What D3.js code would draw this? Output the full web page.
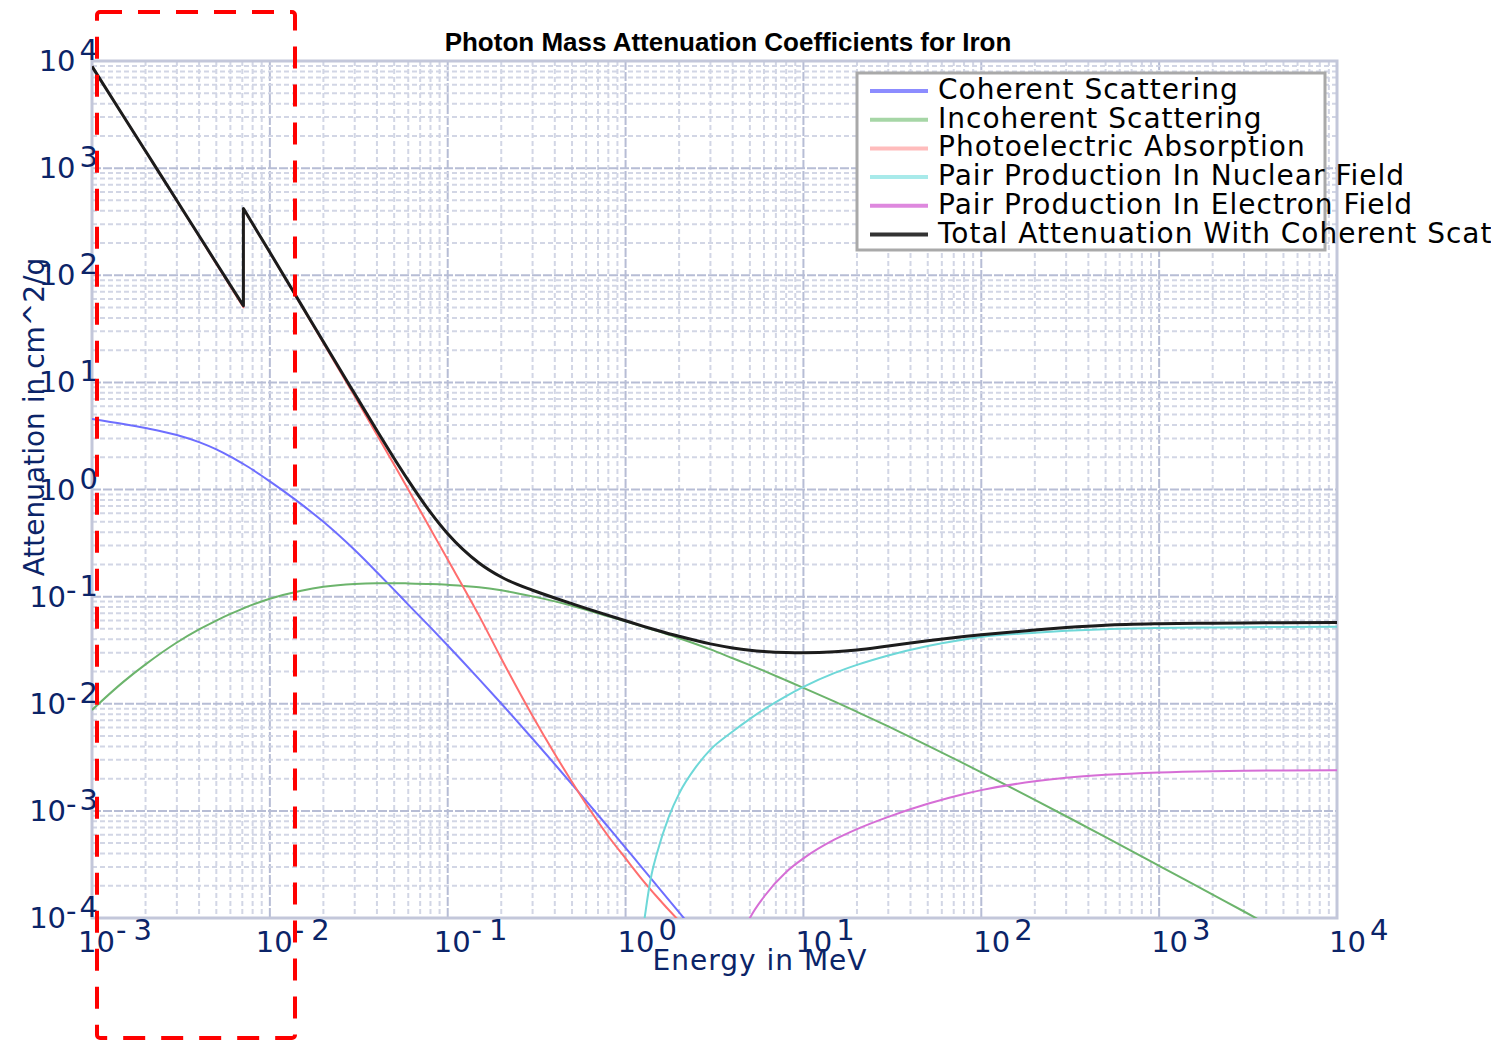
<!DOCTYPE html>
<html>
<head>
<meta charset="utf-8">
<script src="https://cdn.jsdelivr.net/npm/d3@7"></script>
<style>
  html, body { margin: 0; padding: 0; background: #fff; }
  svg { display: block; }
</style>
</head>
<body>
<svg id="chart" width="1509" height="1042"></svg>
<script>
// Photon energies in MeV (the iron K edge appears twice: just below / just above)
const energyMeV = [0.001, 0.0015, 0.002, 0.003, 0.004, 0.005, 0.006, 0.0071, 0.0071, 0.008,
  0.01, 0.015, 0.02, 0.03, 0.04, 0.05, 0.06, 0.08, 0.1, 0.15,
  0.2, 0.3, 0.4, 0.5, 0.6, 0.8, 1, 1.25, 1.5, 2,
  3, 4, 5, 6, 8, 10, 15, 20, 30, 50,
  80, 100, 200, 300, 500, 1000, 2000, 3000, 5000, 10000];

// Energies used for the two pair-production channels (above threshold)
const pairEnergyMeV = [1.1, 1.2, 1.3, 1.4, 1.5, 1.75, 2, 2.5, 3, 4,
  5, 6, 8, 10, 15, 20, 30, 50, 80, 100,
  200, 300, 500, 1000, 2000, 3000, 5000, 10000];

// Mass attenuation coefficients, cm^2/g (null = not plotted)
const coherent = [4.56, 4.09, 3.75, 3.23, 2.77, 2.37, 2.03, 1.73, 1.73, 1.53,
  1.19, 0.730, 0.499, 0.272, 0.169, 0.1155, 0.0842, 0.0516, 0.0350, 0.0170,
  0.01005, 0.00471, 0.002726, 0.001771, 0.001242, 0.000704, 0.000452, 0.000289, 0.000201, 0.000113,
  0.00005, null, null, null, null, null, null, null, null, null,
  null, null, null, null, null, null, null, null, null, null];

const incoherent = [0.00875, 0.0160, 0.0233, 0.0373, 0.0494, 0.0598, 0.0690, 0.0778, 0.0778, 0.0841,
  0.0955, 0.1135, 0.1236, 0.1315, 0.1333, 0.1334, 0.1328, 0.1312, 0.1289, 0.1225,
  0.1145, 0.1005, 0.0903, 0.0822, 0.0755, 0.0655, 0.0587, 0.0525, 0.0479, 0.0409,
  0.0322, 0.0266, 0.02293, 0.02025, 0.01652, 0.01409, 0.01047, 0.00841, 0.00614, 0.00407,
  0.002767, 0.002293, 0.001267, 0.000891, 0.000569, 0.000307, 0.000165, 0.000115, 0.000072, 0.0000385];

const photoelectric = [8895, 3066, 1439, 494.7, 231.2, 127.6, 78.6, 50.2, 418.2, 301.0,
  162.5, 52.4, 23.3, 7.42, 3.25, 1.70, 1.00, 0.428, 0.222, 0.0665,
  0.0265, 0.0077, 0.0034, 0.00186, 0.00116, 0.00058, 0.00036, 0.000225, 0.000158, 0.000094,
  0.00005, null, null, null, null, null, null, null, null, null,
  null, null, null, null, null, null, null, null, null, null];

const total = [8900, 3070, 1443, 498, 234, 130, 80.7, 52, 420, 302.6,
  163.8, 53.2, 23.9, 7.82, 3.55, 1.95, 1.218, 0.611, 0.386, 0.206,
  0.1523, 0.1147, 0.0971, 0.0859, 0.0778, 0.0668, 0.0595, 0.0531, 0.0486, 0.0426,
  0.0362, 0.0332, 0.0316, 0.03075, 0.03005, 0.02992, 0.03053, 0.03178, 0.03461, 0.03872,
  0.04234, 0.04398, 0.0488, 0.05144, 0.05414, 0.05585, 0.05655, 0.05678, 0.0570, 0.0572];

const pairNuclear = [0.000005, 0.00004, 0.00012, 0.000255, 0.0004, 0.00088, 0.00145, 0.0026, 0.00373, 0.0055,
  0.00722, 0.00886, 0.0118, 0.01437, 0.0194, 0.02305, 0.02823, 0.03462, 0.03987, 0.04207,
  0.04603, 0.04793, 0.04967, 0.05089, 0.05152, 0.05177, 0.05203, 0.05229];

const pairElectron = [null, null, null, null, null, null, null, null, null, 0.00004,
  0.0001, 0.000158, 0.000269, 0.00036, 0.000541, 0.000676, 0.00088, 0.001165, 0.001439, 0.001562,
  0.00189, 0.002037, 0.002171, 0.002287, 0.002348, 0.002367, 0.002382, 0.002395];

const seriesNames = ["Coherent Scattering", "Incoherent Scattering", "Photoelectric Absorption",
  "Pair Production In Nuclear Field", "Pair Production In Electron Field",
  "Total Attenuation With Coherent Scattering"];
const seriesEnergies = [energyMeV, energyMeV, energyMeV, pairEnergyMeV, pairEnergyMeV, energyMeV];
const seriesValues = [coherent, incoherent, photoelectric, pairNuclear, pairElectron, total];
const seriesColors = ["#6e6eff", "#6cb46c", "#ff6e6e", "#6ed8d8", "#d66ed6", "#1c1c1c"];
const legendColors = ["#8c8cff", "#a6d6a6", "#ffbcbc", "#a8eaea", "#de88de", "#333333"];

const titleText = "Photon Mass Attenuation Coefficients for Iron";
const xLabelText = "Energy in MeV";
const yLabelText = "Attenuation in cm^2/g";
const xTickExponents = [-3, -2, -1, 0, 1, 2, 3, 4];
const yTickExponents = [-4, -3, -2, -1, 0, 1, 2, 3, 4];

const svg = d3.select("#chart");
const plot = { left: 92, right: 1337, top: 61, bottom: 918 };
const navy = "#0b2468";

const x = d3.scaleLog().domain([1e-3, 1e4]).range([plot.left, plot.right]);
const y = d3.scaleLog().domain([1e-4, 1e4]).range([plot.bottom, plot.top]);

const defs = svg.append("defs");
defs.append("clipPath").attr("id", "plotClip").append("rect")
  .attr("x", plot.left).attr("y", plot.top)
  .attr("width", plot.right - plot.left).attr("height", plot.bottom - plot.top);
defs.append("clipPath").attr("id", "pageClip").append("rect")
  .attr("x", 0).attr("y", 0).attr("width", 1491).attr("height", 1042);

// log grid, decades slightly darker
const isDecade = v => Math.abs(Math.log10(v) - Math.round(Math.log10(v))) < 1e-9;
const grid = svg.append("g");
grid.selectAll("line.gx").data(x.ticks()).join("line")
  .attr("x1", d => x(d)).attr("x2", d => x(d))
  .attr("y1", plot.top).attr("y2", plot.bottom)
  .attr("stroke", d => isDecade(d) ? "#b7bdd5" : "#d2d6e5")
  .attr("stroke-width", 2)
  .attr("stroke-dasharray", d => isDecade(d) ? "9,2" : "5,3");
grid.selectAll("line.gy").data(y.ticks()).join("line")
  .attr("y1", d => y(d)).attr("y2", d => y(d))
  .attr("x1", plot.left).attr("x2", plot.right)
  .attr("stroke", d => isDecade(d) ? "#b7bdd5" : "#d2d6e5")
  .attr("stroke-width", 2)
  .attr("stroke-dasharray", d => isDecade(d) ? "9,2" : "5,3");

// axes box
svg.append("rect")
  .attr("x", plot.left).attr("y", plot.top)
  .attr("width", plot.right - plot.left).attr("height", plot.bottom - plot.top)
  .attr("fill", "none").attr("stroke", "#c3c7da").attr("stroke-width", 3);

// curves: split at repeated energies so the absorption edge is a sharp step
const lineGen = d3.line().x(p => x(p.e)).y(p => y(p.v)).curve(d3.curveMonotoneX);
function pathFor(energies, values) {
  const pts = energies.map((e, i) => ({ e, v: values[i] })).filter(p => p.v != null);
  const runs = [[]];
  pts.forEach((p, i) => {
    if (i > 0 && p.e === pts[i - 1].e) runs.push([]);
    runs[runs.length - 1].push(p);
  });
  return runs.map((r, i) => { const s = lineGen(r); return i ? s.replace(/^M/, "L") : s; }).join("");
}
const curves = svg.append("g").attr("clip-path", "url(#plotClip)");
seriesValues.forEach((vals, i) => {
  curves.append("path")
    .attr("d", pathFor(seriesEnergies[i], vals))
    .attr("fill", "none")
    .attr("stroke", seriesColors[i])
    .attr("stroke-width", i === 5 ? 3 : 2)
    .attr("stroke-linejoin", "round");
});

// tick labels
const tickFont = "'DejaVu Sans', 'Liberation Sans', sans-serif";
xTickExponents.forEach(k => {
  const t = svg.append("text")
    .attr("x", x(Math.pow(10, k)) + (k < 0 ? -14 : -8)).attr("y", 952)
    .attr("font-family", tickFont).attr("font-size", 29).attr("fill", navy);
  t.append("tspan").text("10");
  if (k < 0) {
    t.append("tspan").attr("dx", 1).attr("dy", -12).text("-");
    t.append("tspan").attr("dx", 7).text(String(-k));
  } else {
    t.append("tspan").attr("dx", 4).attr("dy", -12).text(String(k));
  }
});
yTickExponents.forEach(k => {
  const ty = y(Math.pow(10, k));
  const t = svg.append("text")
    .attr("x", 98).attr("y", ty + 10).attr("text-anchor", "end")
    .attr("font-family", tickFont).attr("font-size", 29).attr("fill", navy);
  t.append("tspan").text("10");
  if (k < 0) {
    t.append("tspan").attr("dy", -7).text("-");
    t.append("tspan").attr("dx", 3).attr("dy", -4).text(String(-k));
  } else {
    t.append("tspan").attr("dx", 4).attr("dy", -11).text(String(k));
  }
});

// title and axis labels
svg.append("text")
  .attr("x", 728).attr("y", 51).attr("text-anchor", "middle")
  .attr("font-family", "'Liberation Sans', Arial, sans-serif").attr("font-weight", "bold")
  .attr("font-size", 26).attr("fill", "#000").text(titleText);
svg.append("text")
  .attr("x", 760).attr("y", 970).attr("text-anchor", "middle")
  .attr("font-family", tickFont).attr("font-size", 28).attr("letter-spacing", 1)
  .attr("fill", navy).text(xLabelText);
svg.append("text")
  .attr("transform", "translate(44,417) rotate(-90)").attr("text-anchor", "middle")
  .attr("font-family", tickFont).attr("font-size", 28)
  .attr("fill", navy).text(yLabelText);

// legend
const legend = svg.append("g").attr("clip-path", "url(#pageClip)");
legend.append("rect")
  .attr("x", 857).attr("y", 73).attr("width", 468).attr("height", 177)
  .attr("fill", "#fff").attr("stroke", "#a9a9a9").attr("stroke-width", 3);
seriesNames.forEach((name, i) => {
  const ly = 91 + i * 28.7;
  legend.append("line")
    .attr("x1", 870).attr("x2", 928).attr("y1", ly).attr("y2", ly)
    .attr("stroke", legendColors[i]).attr("stroke-width", 4);
  legend.append("text")
    .attr("x", 938).attr("y", ly + 8)
    .attr("font-family", tickFont).attr("font-size", 28).attr("letter-spacing", 1)
    .attr("fill", "#000").text(name);
});

// dashed highlight box over the low-energy region
svg.append("rect")
  .attr("x", 97).attr("y", 12).attr("width", 198).attr("height", 1026)
  .attr("rx", 3)
  .attr("fill", "none").attr("stroke", "#ff0000").attr("stroke-width", 4)
  .attr("stroke-dasharray", "22,16");
</script>
</body>
</html>
